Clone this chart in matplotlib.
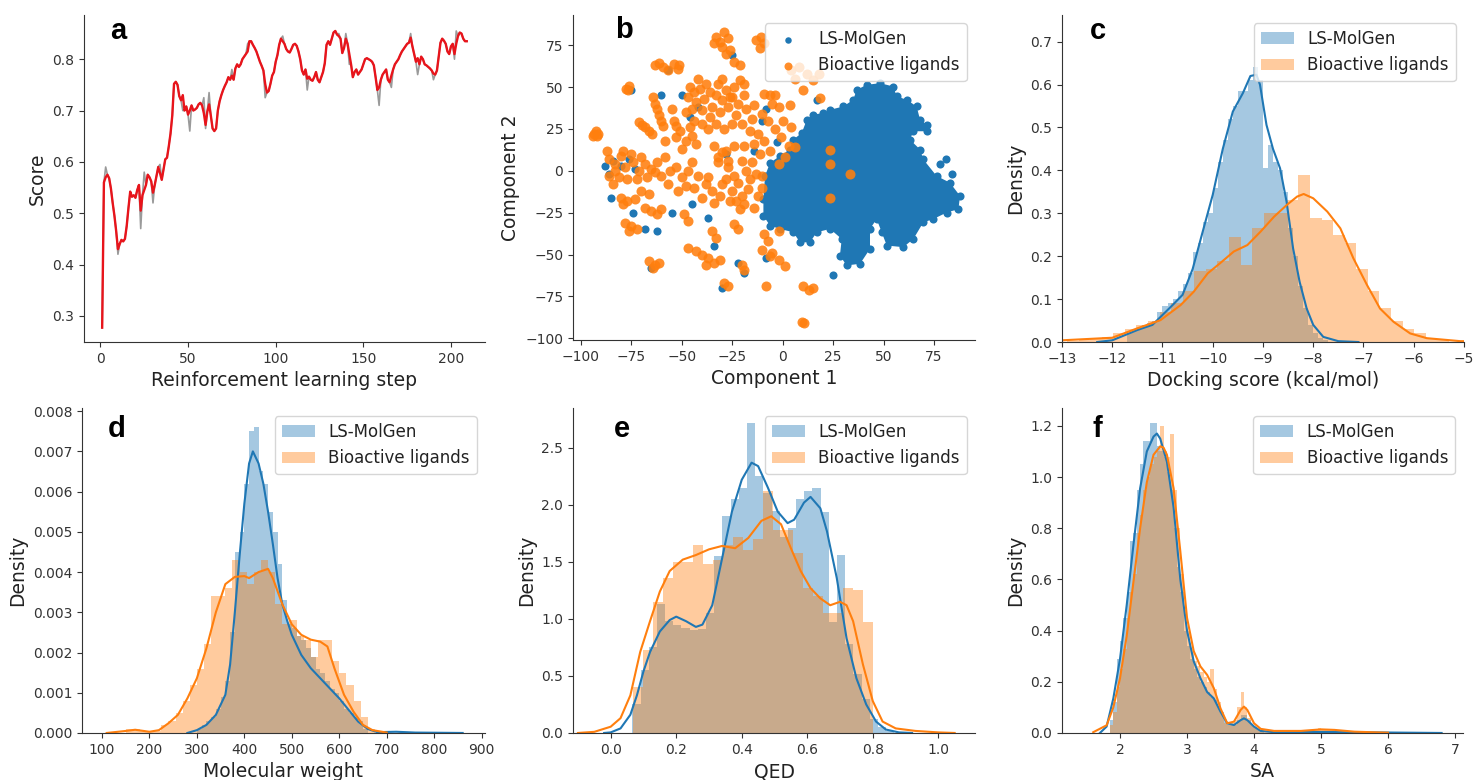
"""Six-panel summary: RL score curve, t-SNE map and property distributions."""

import matplotlib
matplotlib.use("Agg")
import matplotlib.pyplot as plt
import numpy as np

BLUE = "#1f77b4"
ORANGE = "#ff7f0e"

# ---- panel a: score per reinforcement learning step (smoothed curve) ----
score_smooth = [
    0.277, 0.560, 0.570, 0.575, 0.568, 0.548, 0.520, 0.495, 0.465, 0.430,
    0.440, 0.448, 0.445, 0.450, 0.475, 0.510, 0.542, 0.532, 0.535, 0.530,
    0.545, 0.555, 0.505, 0.535, 0.545, 0.555, 0.575, 0.570, 0.562, 0.540,
    0.555, 0.572, 0.590, 0.578, 0.565, 0.585, 0.605, 0.608, 0.630, 0.655,
    0.690, 0.752, 0.756, 0.750, 0.728, 0.720, 0.730, 0.700, 0.708, 0.692,
    0.700, 0.710, 0.700, 0.702, 0.705, 0.712, 0.715, 0.710, 0.695, 0.672,
    0.698, 0.712, 0.690, 0.665, 0.660, 0.665, 0.700, 0.718, 0.730, 0.740,
    0.748, 0.755, 0.765, 0.760, 0.768, 0.760, 0.782, 0.790, 0.785, 0.790,
    0.800, 0.805, 0.810, 0.815, 0.835, 0.835, 0.828, 0.822, 0.815, 0.805,
    0.795, 0.787, 0.778, 0.752, 0.735, 0.738, 0.752, 0.768, 0.775, 0.795,
    0.808, 0.828, 0.840, 0.835, 0.830, 0.820, 0.815, 0.813, 0.820, 0.828,
    0.830, 0.826, 0.815, 0.800, 0.778, 0.770, 0.780, 0.762, 0.766, 0.760,
    0.758, 0.765, 0.775, 0.760, 0.755, 0.765, 0.775, 0.792, 0.828, 0.835,
    0.828, 0.840, 0.852, 0.855, 0.848, 0.845, 0.840, 0.812, 0.822, 0.840,
    0.830, 0.810, 0.790, 0.765, 0.775, 0.780, 0.770, 0.775, 0.780, 0.790,
    0.800, 0.802, 0.800, 0.798, 0.795, 0.788, 0.765, 0.740, 0.745, 0.760,
    0.770, 0.775, 0.780, 0.760, 0.755, 0.768, 0.780, 0.790, 0.795, 0.800,
    0.808, 0.815, 0.820, 0.825, 0.830, 0.832, 0.842, 0.825, 0.810, 0.795,
    0.802, 0.790, 0.805, 0.800, 0.790, 0.788, 0.785, 0.782, 0.778, 0.772,
    0.770, 0.778, 0.805, 0.832, 0.840, 0.836, 0.830, 0.815, 0.810, 0.825,
    0.830, 0.810, 0.830, 0.845, 0.852, 0.850, 0.840, 0.835, 0.835,
]
# raw (unsmoothed) scores differ from the curve only at these steps
spike_steps = [3, 10, 23, 25, 30, 34, 47, 51, 59, 60, 62, 75, 84, 94, 104,
               118, 136, 140, 142, 159, 166, 177, 181, 190, 202, 203]
spike_scores = [0.59, 0.42, 0.47, 0.58, 0.52, 0.595, 0.70, 0.66, 0.725, 0.665,
                0.735, 0.78, 0.83, 0.725, 0.845, 0.74, 0.85, 0.85, 0.79, 0.71,
                0.745, 0.85, 0.77, 0.76, 0.80, 0.855]

# ---- panel b: t-SNE embedding ----
# outline of the dense LS-MolGen region
blob_x = [-9.5, -8.7, -6.2, -1.3, 3.7, 5.3, 9.5, 12.0, 15.2, 20.2, 23.5, 30.1,
          35.0, 36.7, 41.6, 48.3, 54.9, 56.5, 61.5, 66.4, 68.1, 71.4, 71.4,
          64.8, 63.1, 68.1, 69.7, 76.3, 82.9, 87.9, 87.1, 81.3, 74.7, 69.7,
          64.8, 59.8, 51.6, 49.1, 46.6, 43.3, 43.3, 38.4, 31.7, 28.4, 29.3,
          23.5, 16.9, 13.6, 8.6, 5.3, -1.3, -6.2, -9.5]
blob_y = [-17.0, -3.1, 4.8, 8.8, 12.7, 18.6, 22.6, 30.5, 33.5, 34.5, 36.4, 38.4,
          42.4, 48.3, 51.3, 52.3, 50.3, 44.4, 42.4, 38.4, 30.5, 27.5, 23.6,
          23.6, 18.6, 12.7, 6.8, -3.1, -7.1, -15.0, -22.9, -24.9, -28.8, -30.8,
          -40.7, -45.6, -44.6, -36.7, -28.8, -34.7, -46.6, -55.5, -56.5, -50.6,
          -40.7, -34.7, -36.7, -42.7, -42.7, -36.7, -34.7, -32.8, -26.8]
gen_x = [-84, -80, -76, -73, -86, -57, -25, -22, -74, -37, -8, -10, -3, -42,
         -46, -68, -62, -30, -55, -85, -50, -75, -19, -8, -34, -14, 17, 81,
         78, 25, -60, -88, -65, -45, -28, 84, 60, 35]
gen_y = [6, 3, 7, 1, -2, 60, 69, -55, -25, -28, 37, 30, 17, 38, 32, -35, -36,
         -70, -25, -16, 45, 48, -61, -52, -45, 12, 42, 7, 4, -62, 45, 3, -58,
         -20, 10, -2, 20, -10]
lig_x = [
    -93.5, -92, -92.5, -94, -91.5, -77.5, -76, -76.5,
    -63, -61, -59, -57, -54, -51.5, -52,
    -64, -63, -62, -61, -60, -59, -71, -69.5, -68, -66, -64.5, -53, -51, -54,
    -46, -44, -41, -38, -36, -33, -30, -39, -43, -47, -35, -28, -32, -26, -40, -45,
    -33, -31, -29, -27, -30, -26, -28, -34, -21, -19, -24, -21,
    -13, -10.5, -9, -11,
    -25, -22, -18, -23, -15, -25, -19, -14, -20,
    -10, -7, -4, -1, 3, -9, -6, 1, 6, -2, -5, -9, -2, -12, -14, -16, -11, 4, 0,
    -53, -48, -43, -50, -45, -34, -30, -27, -32,
    -86, -83, -80, -78, -74, -71, -68, -65, -86, -81, -77, -72, -67, -63, -83,
    -80, -77, -73, -79, -68, -65, -62, -60, -78, -75, -72, -76,
    -53, -50, -48, -52, -47, -42, -38, -35, -31, -40, -34, -37, -30,
    -32, -27, -24, -20, -18, -22, -17, -25, -20, -19, -23,
    -49, -47, -35, -33, -24, -22,
    -47, -43, -40, -37, -34, -38, -31, -66, -63, -61, -64,
    -29, -27, -20, -19, -9, -7, -10, -5, -2, 1, -6, -8,
    10, 13, 15, 9.5, 10.5,
    4, 8, 12, 15, 6, 18,
    3.6, 10, 18.5, -10, -10, 23.5, 23.5, 33.4, 23.5, -2, -4, -55, -58, -87, -6,
    -48, -44, -40, -36, -31, -27, -24, -30, -42, -37, -33, -29, -46,
    -28, -26, -21, -16, -15, -13, -12, -14, -28, -24, -19,
    -84, -79, -75, -70, -62, -60, -58, -56, -57, -45, -44, -70, -66,
]
lig_y = [
    22, 20.5, 23.5, 20.5, 22, 49, 50.5, 48,
    63, 64.5, 62, 60, 64, 63, 61,
    44, 40, 37, 33, 30, 27, 29, 27.5, 26, 24, 22, 27, 24, 30,
    50, 47, 49, 52, 47, 45, 42, 43, 41, 44, 38, 48, 52, 44, 36, 37,
    80, 77, 83, 79, 74, 72, 70, 76, 54, 52, 65, 63,
    78, 80, 76, 73,
    44, 40, 37, 33, 31, 28, 45, 39, 28,
    34, 30, 25, 20, 15, 18, 12, 8, 14, 4, 40, 46, 38, 22, 16, 24, 10, 26, 30,
    20, 18, 16, 13, 21, 15, 11, 6, 5,
    7, 4, 9, 2, 5, 0, 4, 1, -3, -4, -5, -5, -4, -1, 0,
    -16, -18, -17, -20, -22, -24, -26, -23, -31, -33, -35, -36,
    2, -4, -9, -12, 0, -3, -8, -12, -15, -16, -19, -4, -8,
    8, 2, -3, 6, 0, -7, -11, -12, -15, -20, -18,
    -26, -30, -36, -40, -32, -35,
    -46, -48, -50, -52, -55, -56, -53, -54, -56, -55, -58,
    -67, -69, -56, -59, -38, -42, -47, -49, -53, -57, -51, -69,
    -69, -71, -70, -90, -91,
    60, 62, 58, 54, 55, 58,
    39.5, 48, 43.7, -3, -10, 12.7, 3.8, -2.1, -16, -35.8, 45, 37, 18, 12, 45,
    35, 30, 28, 32, 35, 38, 50, 55, 55, 25, 28, 25, 26,
    -5, -18, -23, -5, 5, -2, -15, -22, 12, 15, 15,
    -8, 12, 10, 8, 5, -3, 8, 0, -8, 5, -10, -12, -14,
]

# ---- panel c: docking score ----
dock_gen_range = (-11.7, -7.7)
dock_gen_hist = [0.02, 0.025, 0.03, 0.04, 0.045, 0.05, 0.07, 0.085, 0.09, 0.10,
                 0.12, 0.135, 0.16, 0.21, 0.23, 0.28, 0.30, 0.36, 0.42, 0.47,
                 0.52, 0.55, 0.585, 0.585, 0.61, 0.64, 0.61, 0.405, 0.46, 0.42,
                 0.40, 0.35, 0.265, 0.20, 0.13, 0.08, 0.04, 0.02, 0.01, 0.005]
dock_lig_range = (-12.9, -5.3)
dock_lig_hist = [0.003, 0.005, 0.008, 0.012, 0.02, 0.03, 0.04, 0.05, 0.07, 0.09,
                 0.12, 0.165, 0.17, 0.19, 0.245, 0.18, 0.265, 0.30, 0.30, 0.33,
                 0.39, 0.29, 0.285, 0.25, 0.23, 0.17, 0.12, 0.08, 0.05, 0.03,
                 0.02, 0.01, 0.005]
dock_gen_kde_x = [-12.3, -12.0, -11.5, -11.2, -11.0, -10.8, -10.6, -10.4, -10.2,
                  -10.0, -9.8, -9.6, -9.4, -9.25, -9.13, -9.06, -8.93, -8.8,
                  -8.66, -8.53, -8.4, -8.27, -8.13, -8.0, -7.8, -7.5, -7.1]
dock_gen_kde_y = [0.0, 0.004, 0.028, 0.04, 0.063, 0.086, 0.11, 0.17, 0.257,
                  0.343, 0.45, 0.537, 0.58, 0.62, 0.623, 0.6, 0.506, 0.45,
                  0.405, 0.327, 0.218, 0.14, 0.078, 0.04, 0.012, 0.002, 0.0]
dock_lig_kde_x = [-13.0, -12.0, -11.5, -11.04, -10.64, -10.38, -10.1, -9.85,
                  -9.58, -9.31, -9.05, -8.78, -8.52, -8.32, -8.19, -8.0, -7.72,
                  -7.46, -7.2, -6.93, -6.67, -6.4, -6.07, -5.74, -5.07, -5.0]
dock_lig_kde_y = [0.004, 0.01, 0.032, 0.051, 0.086, 0.117, 0.16, 0.184, 0.211,
                  0.226, 0.257, 0.292, 0.32, 0.339, 0.345, 0.335, 0.304, 0.265,
                  0.195, 0.133, 0.078, 0.047, 0.02, 0.009, 0.002, 0.002]

# ---- panel d: molecular weight ----
mw_gen_range = (300, 660)
mw_gen_hist = [0.0001, 0.0002, 0.0003, 0.0004, 0.0006, 0.0009, 0.0013, 0.0025,
               0.0045, 0.0050, 0.0062, 0.0075, 0.0076, 0.0065, 0.0062, 0.0055,
               0.0050, 0.0042, 0.0033, 0.0027, 0.0026, 0.0024, 0.0023, 0.0021,
               0.0019, 0.0016, 0.0015, 0.0013, 0.0011, 0.0010, 0.0008, 0.0006,
               0.0005, 0.0004, 0.0003, 0.0001]
mw_lig_range = (150, 675)
mw_lig_hist = [0.0001, 0.0001, 0.00005, 0.00003, 0.00005, 0.0002, 0.0003,
               0.0005, 0.0008, 0.0012, 0.0016, 0.0022, 0.0034, 0.0034, 0.0036,
               0.0043, 0.0040, 0.0037, 0.0040, 0.0043, 0.0040, 0.0032, 0.0027,
               0.0028, 0.0024, 0.0023, 0.0019, 0.0023, 0.0023, 0.0018, 0.0015,
               0.0012, 0.0008, 0.0004, 0.0001]
mw_gen_kde_x = [280, 300, 320, 340, 360, 370, 380, 390, 400, 410, 418, 430, 440,
                450, 460, 470, 480, 490, 500, 520, 540, 560, 580, 600, 620, 640,
                660, 680, 720, 760, 860]
mw_gen_kde_y = [0, 0.00007, 0.0002, 0.00045, 0.00095, 0.0017, 0.003, 0.0044,
                0.0057, 0.0067, 0.0070, 0.0067, 0.0062, 0.0055, 0.0047, 0.00385,
                0.0032, 0.0028, 0.00244, 0.00194, 0.00161, 0.00136, 0.00111,
                0.00086, 0.00057, 0.00028, 0.0001, 0.00002, 0.00003, 0.00001, 0]
mw_lig_kde_x = [110, 150, 170, 200, 220, 240, 260, 280, 300, 320, 340, 360, 380,
                400, 410, 430, 450, 460, 480, 500, 520, 540, 560, 575, 590, 610,
                630, 650, 670, 700]
mw_lig_kde_y = [0, 0.00005, 0.00008, 0.00003, 0.00007, 0.00024, 0.00045,
                0.00086, 0.00136, 0.0021, 0.003, 0.0037, 0.00388, 0.0039,
                0.00385, 0.0040, 0.00408, 0.00385, 0.0032, 0.0027, 0.00244,
                0.00232, 0.00227, 0.00215, 0.0016, 0.00095, 0.00053, 0.0002,
                0.00007, 0.00001]

# ---- panel e: QED ----
qed_gen_range = (0.066, 0.866)
qed_gen_hist = [0.25, 0.55, 0.75, 1.13, 0.98, 0.95, 0.92, 0.90, 0.91, 1.05,
                1.55, 1.90, 2.05, 2.15, 2.72, 2.25, 2.10, 1.95, 1.72, 1.80,
                2.05, 2.12, 2.15, 1.94, 0.97, 1.56, 0.78, 0.52, 0.30, 0.12,
                0.05, 0.02]
qed_lig_range = (0.068, 0.800)
qed_lig_hist = [0.40, 0.73, 1.15, 1.36, 1.50, 1.50, 1.65, 1.48, 1.52, 1.65,
                1.72, 1.60, 1.70, 2.12, 1.78, 1.78, 1.58, 1.27, 1.20, 1.05,
                1.05, 1.27, 1.25, 0.97]
qed_gen_kde_x = [-0.02, 0.0, 0.03, 0.06, 0.08, 0.1, 0.12, 0.15, 0.18, 0.2, 0.23,
                 0.26, 0.28, 0.31, 0.34, 0.37, 0.40, 0.43, 0.45, 0.48, 0.51,
                 0.54, 0.56, 0.59, 0.61, 0.64, 0.66, 0.69, 0.72, 0.75, 0.78,
                 0.81, 0.84, 0.88, 0.92]
qed_gen_kde_y = [0, 0.005, 0.04, 0.16, 0.33, 0.54, 0.71, 0.89, 0.99, 1.02, 0.98,
                 0.93, 0.95, 1.12, 1.53, 1.94, 2.22, 2.37, 2.34, 2.15, 1.94,
                 1.84, 1.87, 2.02, 2.07, 1.97, 1.77, 1.36, 0.83, 0.48, 0.25,
                 0.1, 0.03, 0.005, 0]
qed_lig_kde_x = [-0.1, -0.05, 0.0, 0.03, 0.06, 0.09, 0.12, 0.15, 0.18, 0.22,
                 0.26, 0.30, 0.34, 0.38, 0.42, 0.46, 0.49, 0.52, 0.55, 0.58,
                 0.61, 0.64, 0.67, 0.70, 0.72, 0.74, 0.77, 0.80, 0.83, 0.87,
                 0.93, 1.0, 1.05]
qed_lig_kde_y = [0, 0.01, 0.055, 0.13, 0.33, 0.71, 0.98, 1.24, 1.42, 1.52,
                 1.56, 1.61, 1.64, 1.62, 1.71, 1.86, 1.90, 1.83, 1.62, 1.42,
                 1.27, 1.18, 1.12, 1.15, 1.12, 0.98, 0.6, 0.28, 0.1, 0.04,
                 0.018, 0.005, 0]

# ---- panel f: synthetic accessibility ----
sa_gen_range = (1.85, 4.15)
sa_gen_hist = [0.05, 0.12, 0.29, 0.36, 0.45, 0.55, 0.75, 0.78, 0.95, 1.05,
               1.14, 1.14, 1.21, 1.21, 1.12, 1.10, 1.08, 1.02, 0.95, 0.80,
               0.65, 0.55, 0.40, 0.34, 0.29, 0.25, 0.22, 0.20, 0.18, 0.16,
               0.14, 0.13, 0.10, 0.08, 0.05, 0.04, 0.03, 0.03, 0.05, 0.07,
               0.07, 0.05, 0.03, 0.02, 0.01, 0.005]
sa_lig_range = (1.85, 5.35)
sa_lig_hist = [0.03, 0.08, 0.18, 0.25, 0.33, 0.45, 0.55, 0.62, 0.78, 0.85,
               0.95, 1.00, 1.05, 1.08, 1.10, 1.20, 1.10, 1.08, 1.17, 0.95,
               0.80, 0.62, 0.48, 0.40, 0.33, 0.28, 0.26, 0.24, 0.22, 0.20,
               0.25, 0.17, 0.12, 0.07, 0.04, 0.03, 0.04, 0.05, 0.10, 0.16,
               0.10, 0.06, 0.03, 0.02, 0.01, 0.01,
               0.005, 0.005, 0.005, 0.005, 0.005, 0.005, 0.005, 0.005, 0.005,
               0.005, 0.005, 0.005, 0.005, 0.005,
               0.01, 0.015, 0.02, 0.015, 0.01, 0.012, 0.01, 0.008, 0.005, 0.003]
sa_gen_kde_x = [1.7, 1.8, 1.9, 2.0, 2.1, 2.2, 2.3, 2.4, 2.5, 2.55, 2.6, 2.7, 2.8,
                2.9, 3.0, 3.1, 3.2, 3.3, 3.4, 3.5, 3.6, 3.7, 3.8, 3.85, 3.9, 4.0,
                4.1, 4.3, 5.0, 6.8]
sa_gen_kde_y = [0, 0.025, 0.135, 0.29, 0.5, 0.735, 0.956, 1.1, 1.158, 1.17,
                1.15, 1.06, 0.88, 0.6, 0.4, 0.28, 0.214, 0.16, 0.135, 0.083,
                0.038, 0.031, 0.05, 0.057, 0.05, 0.025, 0.008, 0.003, 0.004, 0]
sa_lig_kde_x = [1.6, 1.8, 1.9, 2.0, 2.1, 2.2, 2.3, 2.4, 2.5, 2.6, 2.65, 2.7, 2.8,
                2.9, 3.0, 3.1, 3.2, 3.3, 3.4, 3.5, 3.6, 3.7, 3.8, 3.85, 3.9, 4.0,
                4.1, 4.3, 4.7, 5.0, 5.2, 5.5, 6.0]
sa_lig_kde_y = [0.003, 0.03, 0.1, 0.214, 0.38, 0.59, 0.8, 0.98, 1.087, 1.12,
                1.115, 1.087, 0.956, 0.71, 0.45, 0.32, 0.26, 0.227, 0.175, 0.096,
                0.038, 0.044, 0.09, 0.103, 0.09, 0.038, 0.016, 0.008, 0.008,
                0.014, 0.012, 0.005, 0.001]

plt.rcParams.update({
    "font.family": ["DejaVu Sans"],
    "font.size": 10,
    "axes.labelsize": 13.5,
    "xtick.labelsize": 10,
    "ytick.labelsize": 10,
    "legend.fontsize": 12,
    "axes.edgecolor": "#333333",
    "xtick.color": "#333333",
    "ytick.color": "#333333",
    "text.color": "#222222",
    "axes.labelcolor": "#222222",
})


def despine(ax):
    ax.spines["top"].set_visible(False)
    ax.spines["right"].set_visible(False)


def letter(ax, s, x, y):
    ax.text(x, y, s, transform=ax.transAxes, fontsize=21, fontweight="bold",
            family=["Liberation Sans", "DejaVu Sans"], color="black",
            ha="left", va="baseline")


def dist_panel(ax, gen_rng, gen_h, lig_rng, lig_h, gk, lk):
    ge = np.linspace(gen_rng[0], gen_rng[1], len(gen_h) + 1)
    le = np.linspace(lig_rng[0], lig_rng[1], len(lig_h) + 1)
    ax.stairs(gen_h, ge, fill=True, color=BLUE, alpha=0.4, lw=0,
              label="LS-MolGen")
    ax.stairs(lig_h, le, fill=True, color=ORANGE, alpha=0.4, lw=0,
              label="Bioactive ligands")
    ax.plot(gk[0], gk[1], color=BLUE, lw=1.5)
    ax.plot(lk[0], lk[1], color=ORANGE, lw=1.5)
    ax.set_ylabel("Density")
    ax.legend(loc="upper right")
    despine(ax)


fig = plt.figure(figsize=(14.75, 7.8), dpi=100)
ax_a = fig.add_axes([0.0569, 0.5615, 0.2719, 0.4192])
ax_b = fig.add_axes([0.3885, 0.5641, 0.2725, 0.4167])
ax_c = fig.add_axes([0.7200, 0.5615, 0.2725, 0.4192])
ax_d = fig.add_axes([0.0556, 0.0603, 0.2732, 0.4167])
ax_e = fig.add_axes([0.3885, 0.0603, 0.2725, 0.4167])
ax_f = fig.add_axes([0.7200, 0.0603, 0.2719, 0.4167])

# a
steps = np.arange(1, len(score_smooth) + 1)
score_raw = list(score_smooth)
for s, v in zip(spike_steps, spike_scores):
    score_raw[s - 1] = v
ax_a.plot(steps, score_raw, color="#9a9a9a", lw=1.2)
ax_a.plot(steps, score_smooth, color="#e8141b", lw=1.7)
ax_a.set_xlim(-9.4, 219.4)
ax_a.set_ylim(0.249, 0.886)
ax_a.set_xticks([0, 50, 100, 150, 200])
ax_a.set_yticks([0.3, 0.4, 0.5, 0.6, 0.7, 0.8])
ax_a.set_xlabel("Reinforcement learning step")
ax_a.set_ylabel("Score")
despine(ax_a)
letter(ax_a, "a", 0.065, 0.927)

# b
ax_b.fill(blob_x, blob_y, color=BLUE, lw=0, zorder=1)
ax_b.scatter(blob_x + gen_x, blob_y + gen_y, s=34, color=BLUE, lw=0,
             zorder=2, label="LS-MolGen")
ax_b.scatter(lig_x, lig_y, s=52, color=ORANGE, alpha=0.88, lw=0, zorder=3,
             label="Bioactive ligands")
ax_b.set_xlim(-103.8, 95.3)
ax_b.set_ylim(-101, 93)
ax_b.set_xticks([-100, -75, -50, -25, 0, 25, 50, 75])
ax_b.set_yticks([-100, -75, -50, -25, 0, 25, 50, 75])
ax_b.set_xlabel("Component 1")
ax_b.set_ylabel("Component 2")
ax_b.legend(loc="upper right", markerscale=0.8)
despine(ax_b)
letter(ax_b, "b", 0.104, 0.929)

# c
dist_panel(ax_c, dock_gen_range, dock_gen_hist, dock_lig_range, dock_lig_hist,
           (dock_gen_kde_x, dock_gen_kde_y), (dock_lig_kde_x, dock_lig_kde_y))
ax_c.set_xlim(-13, -5)
ax_c.set_ylim(0, 0.762)
ax_c.set_xticks(range(-13, -4))
ax_c.set_yticks([0.0, 0.1, 0.2, 0.3, 0.4, 0.5, 0.6, 0.7])
ax_c.set_xlabel("Docking score (kcal/mol)")
letter(ax_c, "c", 0.07, 0.927)

# d
dist_panel(ax_d, mw_gen_range, mw_gen_hist, mw_lig_range, mw_lig_hist,
           (mw_gen_kde_x, mw_gen_kde_y), (mw_lig_kde_x, mw_lig_kde_y))
ax_d.set_xlim(58, 907)
ax_d.set_ylim(0, 0.00808)
ax_d.set_xticks(range(100, 901, 100))
ax_d.set_yticks([0.000, 0.001, 0.002, 0.003, 0.004, 0.005, 0.006, 0.007, 0.008])
ax_d.yaxis.set_major_formatter(matplotlib.ticker.FormatStrFormatter("%.3f"))
ax_d.set_xlabel("Molecular weight")
letter(ax_d, "d", 0.065, 0.911)

# e
dist_panel(ax_e, qed_gen_range, qed_gen_hist, qed_lig_range, qed_lig_hist,
           (qed_gen_kde_x, qed_gen_kde_y), (qed_lig_kde_x, qed_lig_kde_y))
ax_e.set_xlim(-0.115, 1.112)
ax_e.set_ylim(0, 2.85)
ax_e.set_xticks([0.0, 0.2, 0.4, 0.6, 0.8, 1.0])
ax_e.set_yticks([0.0, 0.5, 1.0, 1.5, 2.0, 2.5])
ax_e.set_xlabel("QED")
letter(ax_e, "e", 0.102, 0.911)

# f
dist_panel(ax_f, sa_gen_range, sa_gen_hist, sa_lig_range, sa_lig_hist,
           (sa_gen_kde_x, sa_gen_kde_y), (sa_lig_kde_x, sa_lig_kde_y))
ax_f.set_xlim(1.134, 7.12)
ax_f.set_ylim(0, 1.27)
ax_f.set_xticks([2, 3, 4, 5, 6, 7])
ax_f.set_yticks([0.0, 0.2, 0.4, 0.6, 0.8, 1.0, 1.2])
ax_f.set_xlabel("SA")
letter(ax_f, "f", 0.077, 0.911)

fig.savefig("out.png", dpi=100)
